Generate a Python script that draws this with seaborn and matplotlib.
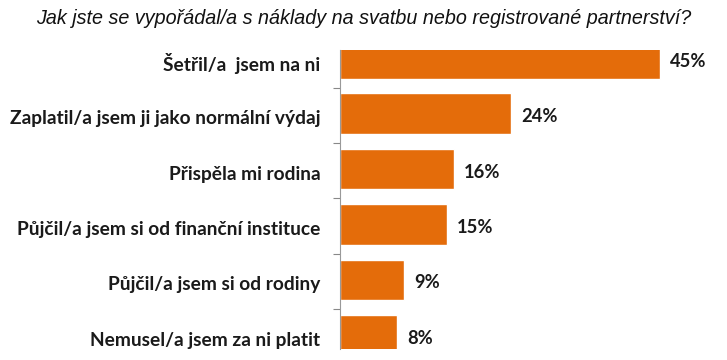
import matplotlib
matplotlib.use("Agg")
import matplotlib.pyplot as plt
import matplotlib.transforms as mtransforms
import seaborn as sns
import pandas as pd

categories = [
    "Šetřil/a  jsem na ni",
    "Zaplatil/a jsem ji jako normální výdaj",
    "Přispěla mi rodina",
    "Půjčil/a jsem si od finanční instituce",
    "Půjčil/a jsem si od rodiny",
    "Nemusel/a jsem za ni platit",
]
values = [45, 24, 16, 15, 9, 8]
value_labels = ["45%", "24%", "16%", "15%", "9%", "8%"]
title = "Jak jste se vypořádal/a s náklady na svatbu nebo registrované partnerství?"

df = pd.DataFrame({"kategorie": categories, "hodnota": values})

sns.set_theme(style="white")
plt.rcParams["font.family"] = ["Lato", "DejaVu Sans"]

fig = plt.figure(figsize=(7.27, 3.6), dpi=100)
ax = fig.add_axes([340 / 727, 1 - 349 / 360, (727 - 340) / 727, 299 / 360])

sns.barplot(data=df, x="hodnota", y="kategorie", color="#E46C0A",
            saturation=1, width=0.73, ax=ax, orient="h")

ax.set_xlim(0, 387 / 7.11)
ax.set_ylim(5.25, -0.15)
ax.set_xlabel("")
ax.set_ylabel("")
ax.set_xticks([])
ax.set_yticks([i + 0.53 for i in range(5)])
ax.set_yticklabels([])
ax.set_yticks(range(6), minor=True)
ax.set_yticklabels(categories, minor=True, fontsize=13.8, fontweight="bold",
                   color="#1a1a1a")
ax.tick_params(axis="y", which="major", length=5, width=0.8, color="#888888",
               left=True)
ax.tick_params(axis="y", which="minor", length=0, pad=14)

shift = mtransforms.ScaledTranslation(0, -3.5 / 100, fig.dpi_scale_trans)
for lab in ax.get_yticklabels(minor=True):
    lab.set_transform(lab.get_transform() + shift)

for s in ["top", "right", "bottom"]:
    ax.spines[s].set_visible(False)
ax.spines["left"].set_color("#999999")
ax.spines["left"].set_linewidth(0.8)

for i, (v, lab) in enumerate(zip(values, value_labels)):
    ax.annotate(lab, xy=(v, i), xytext=(7.5, -2.2), textcoords="offset points",
                va="center", ha="left", fontsize=13.2, fontweight="bold",
                color="#1a1a1a")

fig.text(0.5, 1 - 18 / 360, title, ha="center", va="center",
         fontsize=14.2, style="italic", family=["Liberation Sans", "DejaVu Sans"],
         color="#111111")

fig.savefig("out.png", dpi=100)
